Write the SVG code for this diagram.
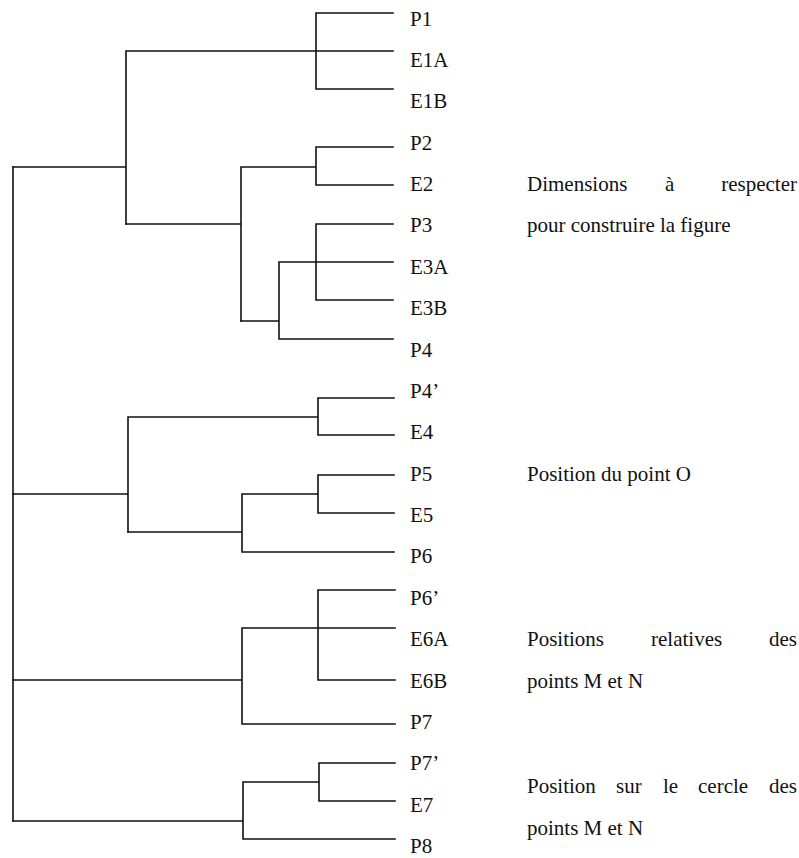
<svg xmlns="http://www.w3.org/2000/svg" width="799" height="858" viewBox="0 0 799 858">
<style>
.c{stroke:#111;stroke-width:1.6;fill:none;stroke-linecap:square}
text{font-family:"Liberation Serif","Times New Roman",serif;font-size:21px;fill:#111}
</style>
<rect width="799" height="858" fill="#fff"/>
<g id="connectors" class="c">
<path d="M13,167V821"/>
<path d="M13,167H126M126,51V224M126,51H393M316,13V89M316,13H393M316,89H393"/>
<path d="M126,224H241M241,167V321M241,167H316M316,147V185M316,147H393M316,185H393"/>
<path d="M241,321H279M279,262V339M279,262H393M279,339H393M316,224V300M316,224H393M316,300H393"/>
<path d="M13,494H128M128,417V532M128,417H318M318,398V435M318,398H394M318,435H394"/>
<path d="M128,532H242M242,494V552M242,494H318M318,475V513M318,475H394M318,513H394M242,552H394"/>
<path d="M13,680H242M242,628V724M242,628H395M318,590V680M318,590H395M318,680H395M242,724H395"/>
<path d="M13,821H243M243,782V839M243,782H319M319,763V801M319,763H395M319,801H395M243,839H395"/>
</g>
<g id="n-P1"><text x="410" y="26">P1</text></g>
<g id="n-E1A"><text x="410" y="67">E1A</text></g>
<g id="n-E1B"><text x="410" y="108">E1B</text></g>
<g id="n-P2"><text x="410" y="150">P2</text></g>
<g id="n-E2"><text x="410" y="191">E2</text></g>
<g id="n-P3"><text x="410" y="232">P3</text></g>
<g id="n-E3A"><text x="410" y="274">E3A</text></g>
<g id="n-E3B"><text x="410" y="315">E3B</text></g>
<g id="n-P4"><text x="410" y="357">P4</text></g>
<g id="n-P4p"><text x="410" y="398">P4’</text></g>
<g id="n-E4"><text x="410" y="439">E4</text></g>
<g id="n-P5"><text x="410" y="481">P5</text></g>
<g id="n-E5"><text x="410" y="522">E5</text></g>
<g id="n-P6"><text x="410" y="563">P6</text></g>
<g id="n-P6p"><text x="410" y="605">P6’</text></g>
<g id="n-E6A"><text x="410" y="646">E6A</text></g>
<g id="n-E6B"><text x="410" y="688">E6B</text></g>
<g id="n-P7"><text x="410" y="729">P7</text></g>
<g id="n-P7p"><text x="410" y="770">P7’</text></g>
<g id="n-E7"><text x="410" y="812">E7</text></g>
<g id="n-P8"><text x="410" y="853">P8</text></g>
<g id="note-dimensions">
<text x="527" y="191">Dimensions</text><text x="665" y="191">à</text><text x="797" y="191" text-anchor="end">respecter</text>
<text x="527" y="232">pour construire la figure</text>
</g>
<g id="note-position-O">
<text x="527" y="481">Position du point O</text>
</g>
<g id="note-positions-relatives">
<text x="527" y="646">Positions</text><text x="651" y="646">relatives</text><text x="797" y="646" text-anchor="end">des</text>
<text x="527" y="688">points M et N</text>
</g>
<g id="note-cercle">
<text x="527" y="793">Position</text><text x="616" y="793">sur</text><text x="663" y="793">le</text><text x="698" y="793">cercle</text><text x="797" y="793" text-anchor="end">des</text>
<text x="527" y="835">points M et N</text>
</g>
</svg>
